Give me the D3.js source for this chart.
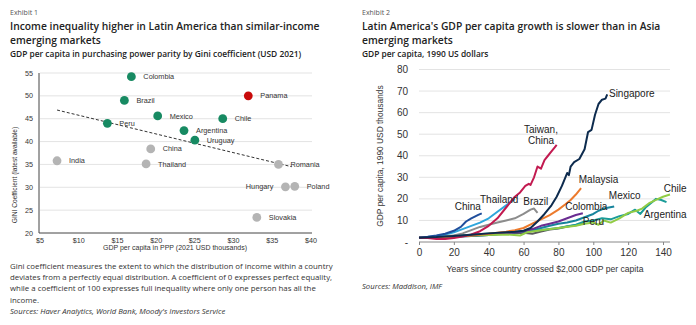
<!DOCTYPE html>
<html lang="en">
<head>
<meta charset="UTF-8"/>
<title>Latin America income and growth</title>
<script src="https://d3js.org/d3.v7.min.js"></script>
<style>
    body { margin: 0; background: #fff; }
    svg { display: block; }
    .ttl { font-family: "Open Sans", sans-serif; fill: #222; }
    .lbl { font-family: "Liberation Sans", Arial, sans-serif; fill: #333; }
</style>
</head>
<body>
<div id="chart"></div>
<script>
    // ---- Exhibit 1 data: GDP per capita PPP (USD thousands) vs Gini
    var countries = ["Colombia", "Brazil", "Mexico", "Peru", "Argentina", "Uruguay", "Chile", "Panama",
                     "China", "India", "Thailand", "Romania", "Hungary", "Poland", "Slovakia"];
    var gdpPPP = [16.8, 15.9, 20.2, 13.7, 23.6, 25.0, 28.6, 31.9, 19.3, 7.2, 18.7, 35.8, 36.7, 37.9, 33.0];
    var gini   = [54.2, 49.0, 45.6, 44.0, 42.4, 40.3, 45.0, 50.0, 38.4, 35.8, 35.1, 35.0, 30.1, 30.2, 23.4];
    var groups = ["latam", "latam", "latam", "latam", "latam", "latam", "latam", "panama",
                  "other", "other", "other", "other", "other", "other", "other"];
    var labelLeft = ["Hungary"];
    var trendX = [7.2, 37.5];
    var trendY = [46.9, 34.5];
    var giniTicks = [20, 25, 30, 35, 40, 45, 50, 55];
    var gdpTicks = [5, 10, 15, 20, 25, 30, 35, 40];

    // ---- Exhibit 2 data: GDP per capita (1990 USD thousands) by years since crossing $2,000
    var singapore = [[0,2],[10,2.3],[20,2.8],[30,3.4],[40,4],[50,4.5],[55,4.8],[60,5.2],[64,6.5],[68,9.5],[72,13],
                     [76,17],[79,21],[82,26],[84,30],[85,32],[86,31],[87,35],[89,37],[92,38.5],[95,43],[97,51],[99,52],
                     [101,59],[103,64],[105,66],[107,66.5],[108,68.5]];
    var taiwan = [[0,2],[5,1.8],[10,1.4],[15,1.4],[20,1.8],[25,2.5],[30,3.5],[35,5],[40,7.5],[45,11],[50,16],
                  [55,21],[58,23],[61,26],[63,27],[64,26.5],[66,30],[68,35],[70,34],[72,38],[74,40],[76,42],[78,44],[79,45]];
    var malaysia = [[0,2],[10,2.2],[20,2.5],[30,3],[40,3.8],[50,4.8],[55,5.5],[60,6.5],[65,8.5],[70,10.5],
                    [75,12.5],[80,15],[84,17.5],[87,19.5],[90,22],[93,25]];
    var china = [[0,2],[5,2.4],[10,3],[15,3.8],[20,5.2],[24,7],[27,9.5],[30,11],[32,11.8],[34,12.6],[36,13.3]];
    var thailand = [[0,2],[5,2.3],[10,2.8],[15,3.5],[20,4.5],[25,6],[30,7.5],[35,9],[40,11],[45,14],[50,17],[55,20]];
    var brazil = [[0,2],[10,2.4],[20,3],[25,4],[30,5.5],[35,7],[40,8],[45,9],[50,10],[55,11],[60,13],
                  [64,15],[66,15.5],[68,13.5]];
    var colombia = [[0,2],[10,2.2],[20,2.6],[30,3],[40,3.5],[50,4],[60,5],[65,6],[70,7.5],[75,8.5],[80,9.5],
                    [85,11],[90,12.5],[94,13.3]];
    var mexico = [[0,2],[10,2.2],[20,2.5],[30,2.8],[40,3.2],[50,4],[60,5],[65,5.5],[70,6.5],[75,7.5],[80,8.5],
                  [85,9],[90,10],[95,11.5],[100,13],[103,14.5],[106,15.5],[109,16],[112,16.5]];
    var peru = [[0,2],[10,2.1],[20,2.4],[30,2.8],[40,3.3],[50,3.8],[60,4.3],[65,3.8],[70,4.8],[75,5.8],
                [80,6.3],[85,7.2],[90,7.8],[95,8.8]];
    var argentina = [[0,2],[10,2.4],[20,2.9],[30,3.4],[40,3.9],[50,4.4],[60,5],[70,5.6],[80,6.5],[90,8],
                     [95,9.5],[100,10],[105,11],[110,10.5],[115,12],[120,13],[124,15],[127,13],[130,16],
                     [133,18],[136,20],[139,19.5],[142,18.5]];
    var chile = [[0,2],[10,2.3],[20,2.6],[30,3],[40,3.3],[50,3.5],[58,3],[62,4.5],[70,5.5],[80,6.5],[90,7.5],
                 [95,8.5],[100,9],[103,8],[106,10],[110,9],[115,11],[120,13.5],[125,14.5],[128,15.5],
                 [132,18],[136,19.5],[140,21],[144,22]];
    var seriesNames = ["Peru", "Argentina", "Mexico", "Colombia", "Brazil", "Chile", "Malaysia",
                       "Thailand", "China", "Taiwan", "Singapore"];
    var seriesData = [peru, argentina, mexico, colombia, brazil, chile, malaysia, thailand, china, taiwan, singapore];
    var seriesColors = ["#5b5b5b", "#1b9c98", "#17849c", "#6a2c91", "#8c8c8c", "#92cc45", "#ec7a2c",
                        "#2ea6dc", "#1f4e9c", "#c21a50", "#0d2b4e"];
    var yearTicks = [0, 20, 40, 60, 80, 100, 120, 140];
    var gdpTicks2 = [0, 10, 20, 30, 40, 50, 60, 70, 80];

    var width = 696, height = 325;
    var svg = d3.select("#chart").append("svg")
        .attr("width", width)
        .attr("height", height);

    function heading(x, exhibit, lines, sub) {
        svg.append("text").attr("class", "ttl")
            .attr("x", x).attr("y", 15)
            .attr("font-size", "7px").style("fill", "#555")
            .text(exhibit);
        lines.forEach(function(t, i) {
            svg.append("text").attr("class", "ttl")
                .attr("x", x).attr("y", 30 + i * 14)
                .attr("font-size", "10.3px").attr("font-weight", 600)
                .text(t);
        });
        svg.append("text").attr("class", "ttl")
            .attr("x", x).attr("y", 57)
            .attr("font-size", "8.4px").attr("font-weight", 600)
            .text(sub);
    }

    // ---------------- Exhibit 1 ----------------
    heading(10, "Exhibit 1",
        ["Income inequality higher in Latin America than similar-income", "emerging markets"],
        "GDP per capita in purchasing power parity by Gini coefficient (USD 2021)");

    var xL = d3.scaleLinear().domain([5, 40]).range([40, 311]);
    var yL = d3.scaleLinear().domain([20, 55]).range([233, 73]);

    var g1 = svg.append("g");

    g1.selectAll("line.grid")
        .data(giniTicks.slice(1))
        .enter().append("line")
        .attr("class", "grid")
        .attr("x1", xL(5)).attr("x2", xL(40) + 1)
        .attr("y1", function(d) { return yL(d); })
        .attr("y2", function(d) { return yL(d); })
        .attr("stroke", "#dcdcdc").attr("stroke-width", 0.8);

    g1.append("line")
        .attr("x1", xL(5) - 1).attr("x2", xL(5) - 1)
        .attr("y1", yL(55)).attr("y2", yL(20))
        .attr("stroke", "#444").attr("stroke-width", 1);
    g1.append("line")
        .attr("x1", xL(5) - 1).attr("x2", xL(40) + 1)
        .attr("y1", yL(20)).attr("y2", yL(20))
        .attr("stroke", "#444").attr("stroke-width", 1);

    g1.selectAll("text.ytick")
        .data(giniTicks)
        .enter().append("text")
        .attr("class", "lbl")
        .attr("x", 33)
        .attr("y", function(d) { return yL(d); })
        .attr("dy", "0.35em")
        .attr("text-anchor", "end")
        .attr("font-size", "7.2px")
        .text(function(d) { return d; });

    g1.selectAll("text.xtick")
        .data(gdpTicks)
        .enter().append("text")
        .attr("class", "lbl")
        .attr("x", function(d) { return xL(d); })
        .attr("y", 243)
        .attr("text-anchor", "middle")
        .attr("font-size", "7.2px")
        .text(function(d) { return "$" + d; });

    g1.append("text").attr("class", "lbl")
        .attr("x", 175).attr("y", 249.5)
        .attr("text-anchor", "middle")
        .attr("font-size", "7px")
        .text("GDP per capita in PPP (2021 USD thousands)");

    g1.append("text").attr("class", "lbl")
        .attr("transform", "translate(17," + 175 + ")rotate(-90)")
        .attr("text-anchor", "middle")
        .attr("font-size", "6.6px")
        .text("GINI Coefficient (latest available)");

    // trend line
    g1.append("line")
        .attr("x1", xL(trendX[0])).attr("y1", yL(trendY[0]))
        .attr("x2", xL(trendX[1])).attr("y2", yL(trendY[1]))
        .attr("stroke", "#333").attr("stroke-width", 1)
        .attr("stroke-dasharray", "3,2");

    var groupColor = { latam: "#178a62", panama: "#c80a0a", other: "#b4b4b4" };
    var pts = countries.map(function(c, i) { return { name: c, x: gdpPPP[i], y: gini[i], g: groups[i] }; });

    g1.selectAll("circle")
        .data(pts)
        .enter().append("circle")
        .attr("cx", function(d) { return xL(d.x); })
        .attr("cy", function(d) { return yL(d.y); })
        .attr("r", 4.4)
        .attr("fill", function(d) { return groupColor[d.g]; });

    g1.selectAll("text.pt")
        .data(pts)
        .enter().append("text")
        .attr("class", "lbl")
        .attr("x", function(d) {
            return labelLeft.indexOf(d.name) >= 0 ? xL(d.x) - 12 : xL(d.x) + 12;
        })
        .attr("y", function(d) { return yL(d.y); })
        .attr("dy", "0.35em")
        .attr("text-anchor", function(d) { return labelLeft.indexOf(d.name) >= 0 ? "end" : "start"; })
        .attr("font-size", "7.3px")
        .text(function(d) { return d.name; });

    var notes = ["Gini coefficient measures the extent to which the distribution of income within a country",
                 "deviates from a perfectly equal distribution. A coefficient of 0 expresses perfect equality,",
                 "while a coefficient of 100 expresses full inequality where only one person has all the",
                 "income."];
    notes.forEach(function(t, i) {
        svg.append("text").attr("class", "ttl")
            .attr("x", 10).attr("y", 269 + i * 11.2)
            .attr("font-size", "7.85px").style("fill", "#333")
            .text(t);
    });
    svg.append("text").attr("class", "ttl")
        .attr("x", 10).attr("y", 314)
        .attr("font-size", "7.7px").attr("font-style", "italic").style("fill", "#333")
        .text("Sources: Haver Analytics, World Bank, Moody's Investors Service");

    // ---------------- Exhibit 2 ----------------
    heading(362, "Exhibit 2",
        ["Latin America's GDP per capita growth is slower than in Asia", "emerging markets"],
        "GDP per capita, 1990 US dollars");

    var xR = d3.scaleLinear().domain([0, 140]).range([419, 663]);
    var yR = d3.scaleLinear().domain([0, 80]).range([242, 69.5]);
    var g2 = svg.append("g");

    g2.selectAll("line.grid")
        .data(gdpTicks2.slice(1))
        .enter().append("line")
        .attr("x1", xR(0)).attr("x2", xR(144))
        .attr("y1", function(d) { return yR(d); })
        .attr("y2", function(d) { return yR(d); })
        .attr("stroke", "#dcdcdc").attr("stroke-width", 0.8);

    g2.selectAll("text.ytick")
        .data(gdpTicks2)
        .enter().append("text")
        .attr("class", "lbl")
        .attr("x", 408)
        .attr("y", function(d) { return yR(d); })
        .attr("dy", "0.35em")
        .attr("text-anchor", "end")
        .attr("font-size", "10px")
        .text(function(d) { return d === 0 ? "-" : d; });

    var xAxis = d3.axisBottom(xR).tickValues(yearTicks).tickSize(3).tickPadding(4);
    var ax = g2.append("g")
        .attr("transform", "translate(0," + yR(0) + ")")
        .call(xAxis);
    ax.select(".domain").attr("d", "M" + xR(0) + ",0H" + xR(144)).attr("stroke", "#888");
    ax.selectAll(".tick line").attr("stroke", "#888");
    ax.selectAll(".tick text")
        .attr("font-family", "Liberation Sans, Arial, sans-serif")
        .attr("font-size", "10px").attr("fill", "#333");

    g2.append("text").attr("class", "lbl")
        .attr("x", 545).attr("y", 272)
        .attr("text-anchor", "middle")
        .attr("font-size", "8.6px")
        .text("Years since country crossed $2,000 GDP per capita");

    g2.append("text").attr("class", "lbl")
        .attr("transform", "translate(383," + 156 + ")rotate(-90)")
        .attr("text-anchor", "middle")
        .attr("font-size", "8.4px")
        .text("GDP per capita, 1990 USD thousands");

    var line = d3.line()
        .x(function(d) { return xR(d[0]); })
        .y(function(d) { return yR(d[1]); });

    g2.selectAll("path.series")
        .data(seriesData)
        .enter().append("path")
        .attr("class", "series")
        .attr("d", line)
        .attr("fill", "none")
        .attr("stroke", function(d, i) { return seriesColors[i]; })
        .attr("stroke-width", 2)
        .attr("stroke-linejoin", "round");

    // series labels: [text lines, anchor year, anchor value, text-anchor]
    var seriesLabels = [
        [["Singapore"], 109, 69, "start"],
        [["Taiwan,", "China"], 70, 52, "middle"],
        [["Malaysia"], 103, 29, "middle"],
        [["Chile"], 147, 25, "middle"],
        [["Mexico"], 118, 21.5, "middle"],
        [["Thailand"], 46, 19.8, "middle"],
        [["Brazil"], 67, 18.8, "middle"],
        [["China"], 28, 16.5, "middle"],
        [["Colombia"], 96, 16.5, "middle"],
        [["Argentina"], 129, 12.8, "start"],
        [["Peru"], 94, 9.5, "start"]
    ];
    seriesLabels.forEach(function(s) {
        s[0].forEach(function(t, j) {
            g2.append("text").attr("class", "lbl")
                .attr("x", xR(s[1]))
                .attr("y", yR(s[2]) + j * 11)
                .attr("dy", "0.35em")
                .attr("text-anchor", s[3])
                .attr("font-size", "10px")
                .style("fill", "#222")
                .text(t);
        });
    });

    svg.append("text").attr("class", "ttl")
        .attr("x", 362).attr("y", 289)
        .attr("font-size", "7.7px").attr("font-style", "italic").style("fill", "#333")
        .text("Sources: Maddison, IMF");
</script>
</body>
</html>
